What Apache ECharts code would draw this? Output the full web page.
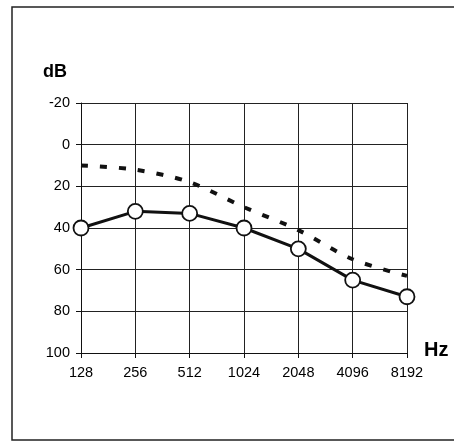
<!DOCTYPE html>
<html><head><meta charset="utf-8">
<script src="https://cdn.jsdelivr.net/npm/echarts@6/dist/echarts.min.js"></script>
<style>html,body{margin:0;padding:0;background:#fff}#c{width:454px;height:442px}</style>
</head><body><div id="c"></div>
<script>
const categories = ['128','256','512','1024','2048','4096','8192'];
const solidValues = [40, 32, 33, 40, 50, 65, 73];
const dashedValues = [10, 12, 18, 30, 41, 55, 63];
const yTicks = [-20, 0, 20, 40, 60, 80, 100];

const chart = echarts.init(document.getElementById('c'));
chart.setOption({
  animation: false,
  backgroundColor: '#fff',
  grid: {left: 81, right: 47, top: 103, bottom: 89},
  graphic: [
    {type: 'rect', shape: {x: 12, y: 7, width: 460, height: 433}, style: {fill: 'none', stroke: '#222', lineWidth: 1.5}, z: 0},
    {type: 'text', left: 43, top: 63, style: {text: 'dB', font: 'bold 18px "Liberation Sans", Arial, sans-serif', fill: '#000'}},
    {type: 'text', left: 424, top: 340, style: {text: 'Hz', font: 'bold 20px "Liberation Sans", Arial, sans-serif', fill: '#000'}}
  ],
  xAxis: {
    type: 'category', data: categories, boundaryGap: false, position: 'bottom',
    axisLine: {show: true, onZero: false, lineStyle: {color: '#111', width: 1}},
    axisTick: {show: true, alignWithLabel: true, length: 5, lineStyle: {color: '#111'}},
    axisLabel: {color: '#000', fontSize: 14.5, fontFamily: '"Liberation Sans", Arial, sans-serif', margin: 12},
    splitLine: {show: true, lineStyle: {color: '#222', width: 1}}
  },
  yAxis: {
    type: 'value', inverse: true, min: -20, max: 100, interval: 20,
    axisLine: {show: true, lineStyle: {color: '#111', width: 1}},
    axisTick: {show: true, length: 5, lineStyle: {color: '#111'}},
    axisLabel: {color: '#000', fontSize: 14.5, fontFamily: '"Liberation Sans", Arial, sans-serif', margin: 11,
      formatter: v => yTicks.includes(v) ? String(v) : ''},
    splitLine: {show: true, lineStyle: {color: '#222', width: 1}}
  },
  series: [
    {type: 'line', data: dashedValues, symbol: 'none', smooth: 0.3,
      lineStyle: {color: '#111', width: 4, type: [7, 12]}, z: 3},
    {type: 'line', data: solidValues, symbol: 'circle', symbolSize: 15,
      lineStyle: {color: '#111', width: 3},
      itemStyle: {color: '#fff', borderColor: '#111', borderWidth: 1.8}, z: 4}
  ]
});
</script></body></html>
